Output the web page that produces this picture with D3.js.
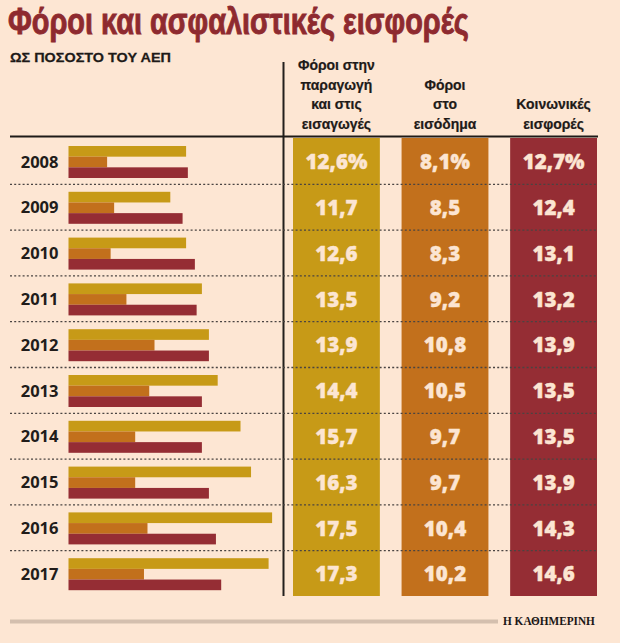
<!DOCTYPE html>
<html>
<head>
<meta charset="utf-8">
<script src="https://cdn.jsdelivr.net/npm/d3@7"></script>
<style>
  html, body { margin: 0; padding: 0; background: #FDE6D3; }
  svg { display: block; }
</style>
</head>
<body>
<div id="chart"></div>
<script>
// ---- data ----
const years = ["2008", "2009", "2010", "2011", "2012", "2013", "2014", "2015", "2016", "2017"];
const seriesKeys = ["production", "income", "social"];
const seriesHeaders = [
  ["Φόροι στην", "παραγωγή", "και στις", "εισαγωγές"],
  ["Φόροι", "στο", "εισόδημα"],
  ["Κοινωνικές", "εισφορές"]
];
const productionTaxes = [12.6, 11.7, 12.6, 13.5, 13.9, 14.4, 15.7, 16.3, 17.5, 17.3];
const incomeTaxes     = [8.1, 8.5, 8.3, 9.2, 10.8, 10.5, 9.7, 9.7, 10.4, 10.2];
const socialContrib   = [12.7, 12.4, 13.1, 13.2, 13.9, 13.5, 13.5, 13.9, 14.3, 14.6];
const titleText = "Φόροι και ασφαλιστικές εισφορές";
const subtitleText = "ΩΣ ΠΟΣΟΣΤΟ ΤΟΥ ΑΕΠ";
const sourceText = "Η ΚΑΘΗΜΕΡΙΝΗ";

// ---- layout / style ----
const W = 620, H = 643;
const colors = { production: "#C79A17", income: "#C2701C", social: "#952D34" };
const bg = "#FDE6D3";
const rows = years.map((y, i) => ({ year: y, i, production: productionTaxes[i], income: incomeTaxes[i], social: socialContrib[i] }));

const svg = d3.select("#chart").append("svg").attr("width", W).attr("height", H);
svg.append("rect").attr("width", W).attr("height", H).attr("fill", bg);

// helper: condense a text horizontally to a target width (keeps glyph height)
function condense(sel, x0, y0, targetW) {
  const w = sel.node().getComputedTextLength();
  const s = targetW / w;
  sel.attr("x", 0).attr("y", 0)
     .attr("transform", `translate(${x0},${y0}) scale(${s},1)`);
}

// title
const title = svg.append("text")
  .attr("font-family", "'Liberation Sans', Arial, sans-serif")
  .attr("font-weight", 700)
  .attr("font-size", 37)
  .attr("fill", "#8E2A2F")
  .attr("stroke", "#8E2A2F").attr("stroke-width", 0.9)
  .text(titleText);
condense(title, 8, 34, 461);

const sub = svg.append("text")
  .attr("font-family", "'Liberation Sans', Arial, sans-serif")
  .attr("font-weight", 700)
  .attr("font-size", 13)
  .attr("fill", "#1E1A18")
  .attr("stroke", "#1E1A18").attr("stroke-width", 0.25)
  .text(subtitleText);
condense(sub, 10, 62, 161);

// scales
const yBand = d3.scaleBand().domain(years).range([138, 596]).paddingInner(0).paddingOuter(0);
const barBand = d3.scaleBand().domain(seriesKeys).range([8, 40]);
const x = d3.scaleLinear().domain([5.9, 17.5]).range([68.5, 272.1]);
const colX = d3.scaleBand().domain(seriesKeys).range([293, 597]).paddingInner(0.2).paddingOuter(0);

// header lines
svg.append("line").attr("x1", 283.5).attr("x2", 283.5).attr("y1", 62).attr("y2", 596)
  .attr("stroke", "#231F1D").attr("stroke-width", 2);
svg.append("line").attr("x1", 10).attr("x2", 598).attr("y1", 136.5).attr("y2", 136.5)
  .attr("stroke", "#1E1A18").attr("stroke-width", 2.2);

// column headers
seriesKeys.forEach((k, si) => {
  const lines = seriesHeaders[si];
  const n = lines.length;
  lines.forEach((ln, li) => {
    const t = svg.append("text")
      .attr("font-family", "'Liberation Sans', Arial, sans-serif")
      .attr("font-weight", 700)
      .attr("font-size", 15.5)
      .attr("fill", "#1E1A18")
      .attr("stroke", "#1E1A18").attr("stroke-width", 0.25)
      .text(ln);
    const w = t.node().getComputedTextLength() * 0.9;
    condense(t, colX(k) + colX.bandwidth() / 2 - w / 2, 128.5 - (n - 1 - li) * 19.4, w);
  });
});

// value columns
svg.append("g").selectAll("rect").data(seriesKeys).join("rect")
  .attr("x", d => colX(d)).attr("width", colX.bandwidth())
  .attr("y", yBand.range()[0]).attr("height", yBand.range()[1] - yBand.range()[0])
  .attr("fill", d => colors[d]);

// bars
const rowG = svg.append("g").selectAll("g").data(rows).join("g")
  .attr("transform", d => `translate(0,${yBand(d.year)})`);

rowG.selectAll("rect").data(d => seriesKeys.map(k => ({ k, v: d[k] }))).join("rect")
  .attr("x", x(x.domain()[0]))
  .attr("y", d => barBand(d.k))
  .attr("height", barBand.bandwidth())
  .attr("width", d => x(d.v) - x(x.domain()[0]))
  .attr("fill", d => colors[d.k]);

// year labels
rowG.append("text")
  .attr("x", 58.5)
  .attr("y", yBand.bandwidth() / 2 + 1)
  .attr("dy", "0.35em")
  .attr("text-anchor", "end")
  .attr("font-family", "'Open Sans', 'DejaVu Sans', sans-serif")
  .attr("font-weight", 700)
  .attr("font-size", 16.5)
  .attr("fill", "#211C1A")
  .text(d => d.year);

// values in columns
const fmt = v => d3.format(".1f")(v).replace(".", ",");
rowG.selectAll("text.val").data(d => seriesKeys.map(k => ({ k, v: d[k], first: d.i === 0 }))).join("text")
  .attr("class", "val")
  .attr("x", d => colX(d.k) + colX.bandwidth() / 2)
  .attr("y", yBand.bandwidth() / 2 + 1)
  .attr("dy", "0.36em")
  .attr("text-anchor", "middle")
  .attr("font-family", "'Open Sans', 'DejaVu Sans', sans-serif")
  .attr("font-weight", 800)
  .attr("font-size", 20.5)
  .attr("fill", "#FCE5D2")
  .attr("stroke", "#FCE5D2").attr("stroke-width", 0.4)
  .text(d => fmt(d.v) + (d.first ? "%" : ""));

// dotted separators
svg.append("g").selectAll("line").data(years.slice(1)).join("line")
  .attr("x1", 10).attr("x2", 598)
  .attr("y1", d => yBand(d) + 0.5).attr("y2", d => yBand(d) + 0.5)
  .attr("stroke", "#4A4442").attr("stroke-width", 1.3)
  .attr("stroke-dasharray", "2,2.2");

// footer
svg.append("rect").attr("x", 10).attr("y", 619.5).attr("width", 488).attr("height", 4)
  .attr("fill", "#D4BFAE");
const src = svg.append("text")
  .attr("font-family", "'Liberation Serif', serif")
  .attr("font-weight", 700)
  .attr("font-size", 12.5)
  .attr("fill", "#1B1716")
  .text(sourceText);
condense(src, 503, 624.5, 92);
</script>
</body>
</html>
